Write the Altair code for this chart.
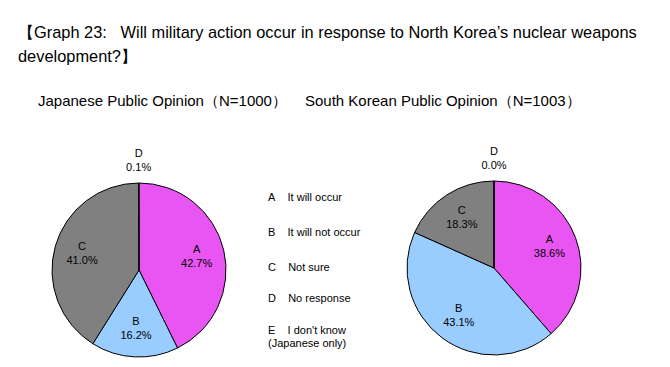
import altair as alt
import pandas as pd

# ---------------- data ----------------
categories = ["A", "B", "C", "D"]
jp_values = [42.7, 16.2, 41.0, 0.1]
kr_values = [38.6, 43.1, 18.3, 0.0]
slice_colors = ["#E855F2", "#99CCFF", "#808080", "#FFFF99"]

legend_keys = ["A", "B", "C", "D", "E"]
legend_labels = ["It will occur", "It will not occur", "Not sure",
                 "No response", "I don't know\n(Japanese only)"]

title_lines = ["【Graph 23:\u00a0\u00a0 Will military action occur in response to North Korea’s nuclear weapons",
               "development?】"]
jp_title = "Japanese Public Opinion（N=1000）"
kr_title = "South Korean Public Opinion（N=1003）"

FONT = "Liberation Sans"
W, H = 654, 351


def pie(values, cx, cy, r):
    df = pd.DataFrame({"cat": categories, "v": values})
    base = alt.Chart(df).transform_calculate(
        label="datum.cat + '\\n' + format(datum.v, '.1f') + '%'"
    ).encode(
        theta=alt.Theta("v:Q", stack=True, scale=alt.Scale(domain=[0, 100])),
        order=alt.Order("cat:N", sort="ascending"),
        detail="cat:N",
        x=alt.value(cx),
        y=alt.value(cy),
    )
    arcs = base.mark_arc(radius=r, stroke="black", strokeWidth=1).encode(
        color=alt.Color("cat:N", scale=alt.Scale(domain=categories, range=slice_colors), legend=None)
    )
    inner = base.mark_text(radius=r * 0.68, dy=-7, fontSize=11, font=FONT, lineBreak="\n",
                           lineHeight=14, color="black").encode(
        text="label:N",
        opacity=alt.condition("datum.cat == 'D'", alt.value(0), alt.value(1)),
    )
    outer = base.mark_text(radius=r + 23, dy=-6, fontSize=11, font=FONT, lineBreak="\n",
                           lineHeight=14, color="black").encode(
        text="label:N",
        opacity=alt.condition("datum.cat == 'D'", alt.value(1), alt.value(0)),
    )
    return [arcs, inner, outer]


title_df = pd.DataFrame({"t": ["\n".join(title_lines)]})
title = alt.Chart(title_df).mark_text(
    align="left", baseline="middle", fontSize=16.4, font=FONT, lineBreak="\n", lineHeight=24, color="black"
).encode(text="t:N", x=alt.value(10), y=alt.value(25))

jp_t = alt.Chart(pd.DataFrame({"t": [jp_title]})).mark_text(
    align="left", baseline="middle", fontSize=15, font=FONT, color="black"
).encode(text="t:N", x=alt.value(30), y=alt.value(93))

kr_t = alt.Chart(pd.DataFrame({"t": [kr_title]})).mark_text(
    align="left", baseline="middle", fontSize=15, font=FONT, color="black"
).encode(text="t:N", x=alt.value(297), y=alt.value(93))

leg_df = pd.DataFrame({"key": legend_keys, "label": legend_labels})
legend = alt.Chart(leg_df).transform_window(
    idx="row_number()"
).transform_calculate(
    txt="datum.key + '\u00a0\u00a0\u00a0\u00a0' + datum.label"
).mark_text(
    align="left", baseline="middle", fontSize=11, font=FONT, lineBreak="\n", lineHeight=13, color="black"
).encode(
    text="txt:N",
    x=alt.value(260),
    y=alt.Y("idx:Q", scale=alt.Scale(domain=[1, 2, 3, 4, 5], range=[190, 225, 260, 291, 323]), axis=None),
)

layers = [title, jp_t, kr_t, legend] + pie(jp_values, 131, 262, 87) + pie(kr_values, 486, 260, 87)

chart = alt.layer(*layers).properties(
    width=W, height=H, autosize=alt.AutoSizeParams(type="none"), padding=0, background="white"
).configure_view(stroke=None)

chart.save("out.html", embed_options={"renderer": "svg", "actions": False})
